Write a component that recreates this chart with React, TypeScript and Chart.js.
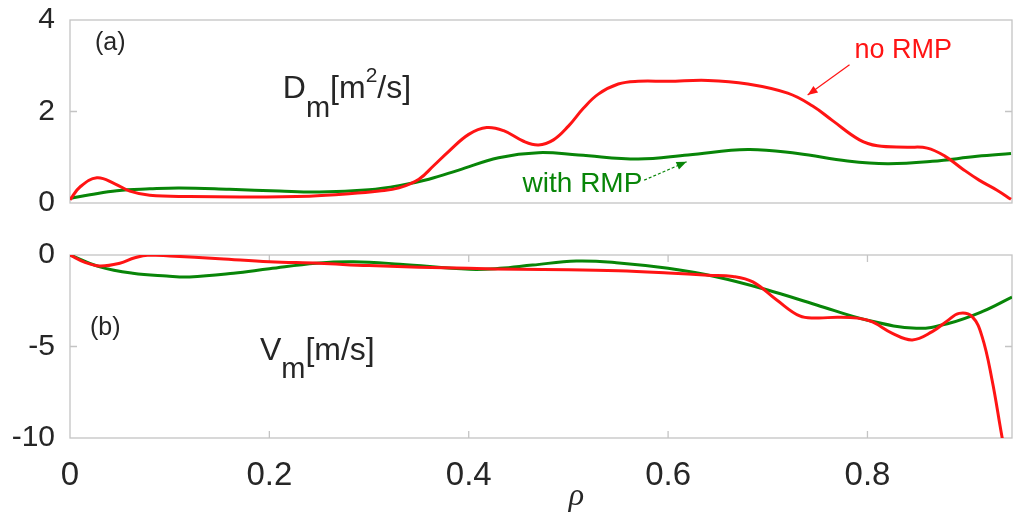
import React, { useEffect, useRef } from "react";
import { Chart, registerables } from "chart.js";

Chart.register(...registerables);

// ---- Data: panel (a) D_m [m^2/s] ----
const rhoDNoRMP = [0, 0.01, 0.027, 0.045, 0.06, 0.08, 0.12, 0.18, 0.24, 0.28, 0.31, 0.33, 0.35, 0.365, 0.38, 0.4, 0.418, 0.435, 0.455, 0.47, 0.485, 0.5, 0.515, 0.53, 0.55, 0.57, 0.6, 0.64, 0.68, 0.72, 0.745, 0.765, 0.792, 0.81, 0.84, 0.86, 0.878, 0.895, 0.912, 0.93, 0.944];
const dNoRMP = [0.07, 0.35, 0.55, 0.42, 0.26, 0.17, 0.14, 0.13, 0.15, 0.2, 0.26, 0.33, 0.52, 0.82, 1.13, 1.5, 1.65, 1.58, 1.35, 1.27, 1.38, 1.68, 2.07, 2.38, 2.6, 2.66, 2.66, 2.68, 2.6, 2.4, 2.12, 1.8, 1.38, 1.25, 1.22, 1.2, 1.02, 0.75, 0.5, 0.28, 0.08];

const rhoDWithRMP = [0, 0.02, 0.047, 0.08, 0.11, 0.16, 0.21, 0.25, 0.3, 0.33, 0.36, 0.39, 0.43, 0.47, 0.51, 0.57, 0.62, 0.68, 0.73, 0.78, 0.82, 0.865, 0.91, 0.944];
const dWithRMP = [0.1, 0.18, 0.27, 0.31, 0.33, 0.3, 0.26, 0.24, 0.29, 0.38, 0.52, 0.72, 0.99, 1.1, 1.05, 0.96, 1.05, 1.17, 1.08, 0.92, 0.86, 0.91, 1.02, 1.08];

// ---- Data: panel (b) V_m [m/s] ----
const rhoVNoRMP = [0, 0.015, 0.03, 0.05, 0.065, 0.08, 0.1, 0.15, 0.2, 0.25, 0.3, 0.4, 0.45, 0.5, 0.55, 0.6, 0.64, 0.665, 0.685, 0.709, 0.732, 0.749, 0.77, 0.79, 0.805, 0.825, 0.845, 0.865, 0.88, 0.892, 0.905, 0.915, 0.925, 0.935, 0.944];
const vNoRMP = [0, -0.4, -0.6, -0.45, -0.15, 0, -0.05, -0.2, -0.37, -0.45, -0.58, -0.73, -0.78, -0.8, -0.86, -0.98, -1.1, -1.17, -1.47, -2.46, -3.33, -3.44, -3.4, -3.45, -3.66, -4.28, -4.64, -4.19, -3.6, -3.19, -3.37, -4.46, -6.83, -9.95, -12.5];

const rhoVWithRMP = [0, 0.03, 0.063, 0.097, 0.12, 0.164, 0.2, 0.247, 0.284, 0.331, 0.401, 0.431, 0.464, 0.508, 0.548, 0.6, 0.649, 0.699, 0.749, 0.799, 0.849, 0.882, 0.915, 0.945];
const vWithRMP = [0, -0.65, -1.0, -1.15, -1.2, -1.0, -0.75, -0.45, -0.37, -0.5, -0.78, -0.73, -0.55, -0.33, -0.42, -0.73, -1.2, -1.9, -2.73, -3.55, -4.0, -3.73, -3.1, -2.3];

const xTickStep = 0.2;
const rhoMax = 0.945;
const dTickStep = 2;
const vTickStep = 5;

const RED = "#ff1414";
const GREEN = "#088508";
const AXIS = "#c4c4c4";
const TEXT = "#262626";
const FONT = "'Liberation Sans', Arial, sans-serif";

const toPts = (xs: number[], ys: number[]) => xs.map((x, i) => ({ x, y: ys[i] }));

type Piece = { t: string; size: number; dy: number };

function drawPieces(ctx: CanvasRenderingContext2D, x: number, y: number, pieces: Piece[], color: string) {
  ctx.fillStyle = color;
  ctx.textBaseline = "alphabetic";
  ctx.textAlign = "left";
  let cx = x;
  for (const p of pieces) {
    ctx.font = `${p.size}px ${FONT}`;
    ctx.fillText(p.t, cx, y + p.dy);
    cx += ctx.measureText(p.t).width;
  }
}

function arrow(ctx: CanvasRenderingContext2D, x1: number, y1: number, x2: number, y2: number, color: string, dashed: boolean) {
  ctx.save();
  ctx.strokeStyle = color;
  ctx.fillStyle = color;
  ctx.lineWidth = 1.2;
  if (dashed) ctx.setLineDash([3, 2]);
  ctx.beginPath();
  ctx.moveTo(x1, y1);
  ctx.lineTo(x2, y2);
  ctx.stroke();
  ctx.setLineDash([]);
  const a = Math.atan2(y2 - y1, x2 - x1);
  const L = 10, W = 4;
  ctx.beginPath();
  ctx.moveTo(x2, y2);
  ctx.lineTo(x2 - L * Math.cos(a) + W * Math.sin(a), y2 - L * Math.sin(a) - W * Math.cos(a));
  ctx.lineTo(x2 - L * Math.cos(a) - W * Math.sin(a), y2 - L * Math.sin(a) + W * Math.cos(a));
  ctx.closePath();
  ctx.fill();
  ctx.restore();
}

function boxPlugin(xTicksInside: boolean) {
  return {
    id: "matlabBox",
    beforeDatasetsDraw(chart: any) {
      const { ctx, chartArea: a, scales } = chart;
      ctx.save();
      ctx.strokeStyle = AXIS;
      ctx.lineWidth = 1.3;
      ctx.strokeRect(a.left, a.top, a.right - a.left, a.bottom - a.top);
      const T = 7;
      ctx.beginPath();
      const ys = scales.y;
      for (const t of ys.ticks) {
        const py = ys.getPixelForValue(t.value);
        if (Math.abs(py - a.top) < 2 || Math.abs(py - a.bottom) < 2) continue;
        ctx.moveTo(a.left, py); ctx.lineTo(a.left + T, py);
        ctx.moveTo(a.right, py); ctx.lineTo(a.right - T, py);
      }
      if (xTicksInside) {
        const xs = scales.x;
        for (const t of xs.ticks) {
          const px = xs.getPixelForValue(t.value);
          if (Math.abs(px - a.left) < 2) continue;
          ctx.moveTo(px, a.top); ctx.lineTo(px, a.top + T);
          ctx.moveTo(px, a.bottom); ctx.lineTo(px, a.bottom - T);
        }
      }
      ctx.stroke();
      ctx.restore();
    },
  };
}

const topNotes = {
  id: "topNotes",
  afterDatasetsDraw(chart: any) {
    const { ctx, scales } = chart;
    const X = (v: number) => scales.x.getPixelForValue(v);
    const Y = (v: number) => scales.y.getPixelForValue(v);
    ctx.save();
    drawPieces(ctx, X(0.025), Y(3.52) + 8, [{ t: "(a)", size: 25, dy: 0 }], TEXT);
    drawPieces(ctx, X(0.2135), Y(2.295), [
      { t: "D", size: 32, dy: 0 },
      { t: "m", size: 29, dy: 19 },
      { t: "[m", size: 32, dy: 0 },
      { t: "2", size: 21, dy: -16 },
      { t: "/s]", size: 32, dy: 0 },
    ], TEXT);
    drawPieces(ctx, X(0.787), Y(3.37) + 9, [{ t: "no RMP", size: 27, dy: 0 }], RED);
    arrow(ctx, X(0.782), Y(3.02), X(0.74), Y(2.36), RED, false);
    drawPieces(ctx, X(0.454), Y(0.44) + 9, [{ t: "with RMP", size: 28, dy: 0 }], GREEN);
    arrow(ctx, X(0.576), Y(0.5), X(0.6185), Y(0.9), GREEN, true);
    ctx.restore();
  },
};

const bottomNotes = {
  id: "bottomNotes",
  afterDatasetsDraw(chart: any) {
    const { ctx, scales } = chart;
    const X = (v: number) => scales.x.getPixelForValue(v);
    const Y = (v: number) => scales.y.getPixelForValue(v);
    ctx.save();
    drawPieces(ctx, X(0.02), Y(-3.93) + 8, [{ t: "(b)", size: 25, dy: 0 }], TEXT);
    drawPieces(ctx, X(0.1905), Y(-5.74), [
      { t: "V", size: 32, dy: 0 },
      { t: "m", size: 29, dy: 18 },
      { t: "[m/s]", size: 32, dy: 0 },
    ], TEXT);
    ctx.fillStyle = TEXT;
    ctx.font = "italic 32px 'Liberation Serif', serif";
    ctx.textAlign = "center";
    ctx.textBaseline = "alphabetic";
    ctx.fillText("ρ", X(0.508), chart.height - 10);
    ctx.restore();
  },
};

function lineDs(label: string, xs: number[], ys: number[], color: string) {
  return {
    label,
    data: toPts(xs, ys),
    borderColor: color,
    backgroundColor: color,
    borderWidth: 3,
    pointRadius: 0,
    tension: 0.4,
    fill: false,
  };
}

export default function App() {
  const topRef = useRef<HTMLCanvasElement | null>(null);
  const botRef = useRef<HTMLCanvasElement | null>(null);

  useEffect(() => {
    const common: any = {
      responsive: false,
      maintainAspectRatio: false,
      animation: false,
      devicePixelRatio: 1,
      plugins: { legend: { display: false }, tooltip: { enabled: false } },
    };
    const yAxisBase = {
      grid: { display: false },
      border: { display: false },
      ticks: { font: { size: 30, family: FONT }, color: TEXT, padding: 7 },
      afterFit: (s: any) => { s.width = 70; },
    };
    const top = new Chart(topRef.current!, {
      type: "line",
      data: {
        datasets: [
          lineDs("no RMP", rhoDNoRMP, dNoRMP, RED),
          lineDs("with RMP", rhoDWithRMP, dWithRMP, GREEN),
        ],
      },
      options: {
        ...common,
        layout: { padding: { left: 0, right: 1, top: 30, bottom: 30 } },
        scales: {
          x: { type: "linear", min: 0, max: rhoMax, display: false, ticks: { stepSize: xTickStep, includeBounds: false } },
          y: { ...yAxisBase, min: 0, max: 4, ticks: { ...yAxisBase.ticks, stepSize: dTickStep } },
        },
      },
      plugins: [boxPlugin(false), topNotes],
    } as any);

    const bot = new Chart(botRef.current!, {
      type: "line",
      data: {
        datasets: [
          lineDs("no RMP", rhoVNoRMP, vNoRMP, RED),
          lineDs("with RMP", rhoVWithRMP, vWithRMP, GREEN),
        ],
      },
      options: {
        ...common,
        layout: { padding: { left: 0, right: 1, top: 30, bottom: 0 } },
        scales: {
          x: {
            type: "linear",
            min: 0,
            max: rhoMax,
            grid: { display: false },
            border: { display: false },
            ticks: { stepSize: xTickStep, includeBounds: false, font: { size: 33, family: FONT }, color: TEXT, padding: 10 },
            afterFit: (s: any) => { s.height = 77; },
          },
          y: { ...yAxisBase, min: -10, max: 0, ticks: { ...yAxisBase.ticks, stepSize: vTickStep } },
        },
      },
      plugins: [boxPlugin(true), bottomNotes],
    } as any);

    return () => { top.destroy(); bot.destroy(); };
  }, []);

  return (
    <div style={{ position: "fixed", left: 0, top: 0, width: 1013, height: 515, background: "#fff", overflow: "hidden" }}>
      <canvas ref={topRef} width={1013} height={243} style={{ position: "absolute", left: 0, top: -10, width: 1013, height: 243 }} />
      <canvas ref={botRef} width={1013} height={290} style={{ position: "absolute", left: 0, top: 225, width: 1013, height: 290 }} />
    </div>
  );
}
